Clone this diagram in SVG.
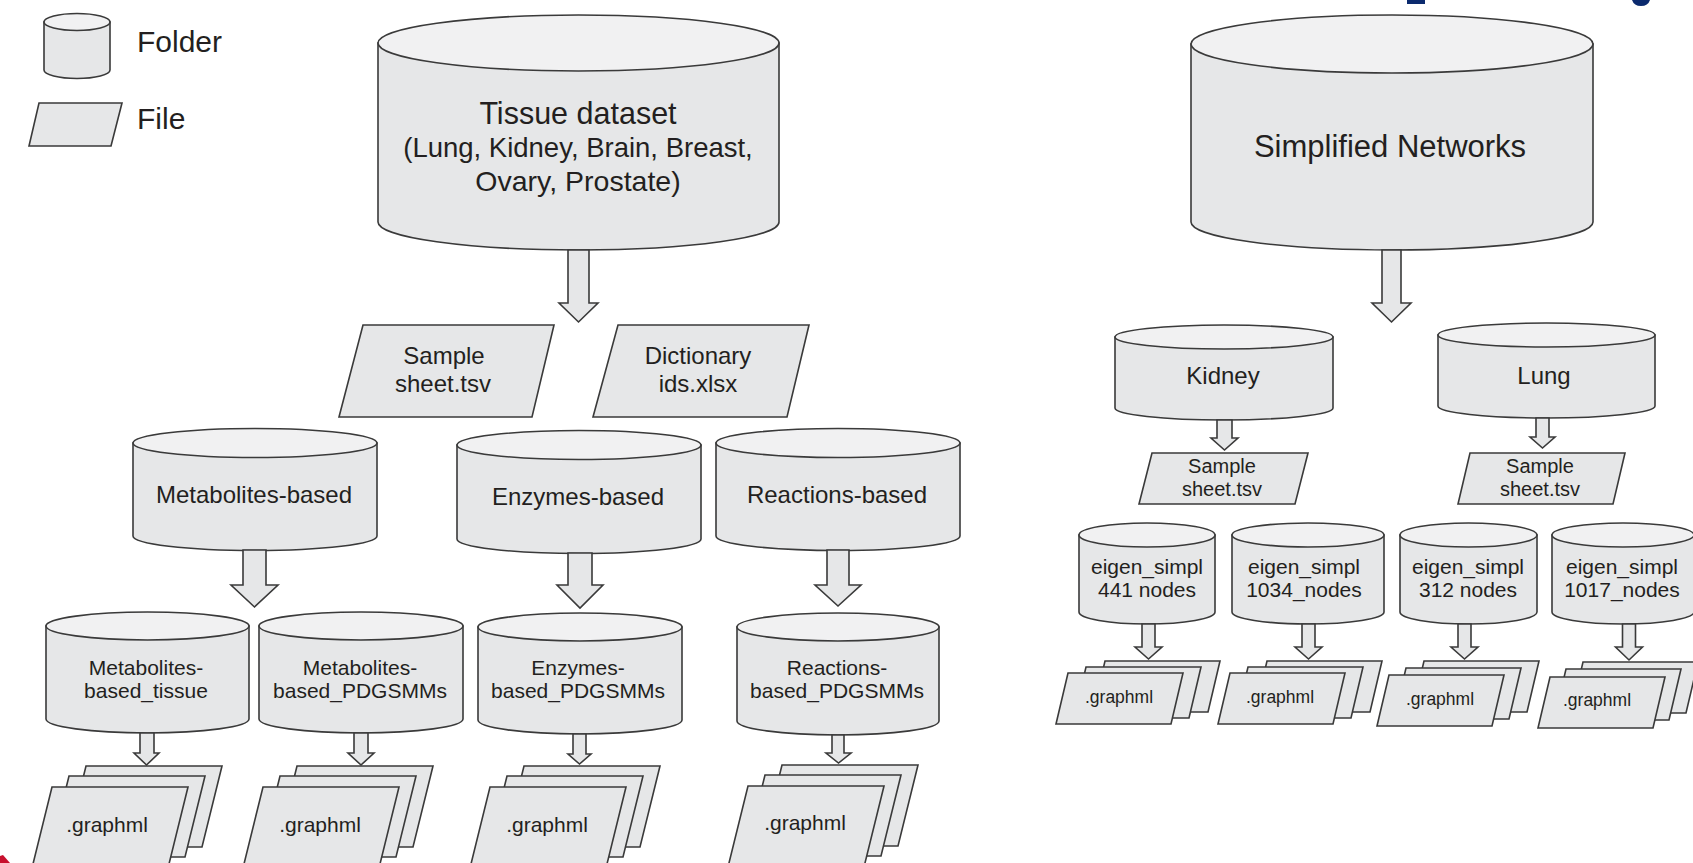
<svg xmlns="http://www.w3.org/2000/svg" width="1693" height="863" viewBox="0 0 1693 863">
<style>
.body{fill:#e6e7e8;stroke:#3a3a3a;stroke-width:1.6}
.top{fill:#f1f1f2;stroke:#3a3a3a;stroke-width:1.6}
.file{fill:#e6e7e8;stroke:#3a3a3a;stroke-width:1.6;stroke-linejoin:miter}
.arrow{fill:#e6e7e8;stroke:#3a3a3a;stroke-width:1.6;stroke-linejoin:miter}
text{font-family:"Liberation Sans",Arial,sans-serif;fill:#231f20;text-anchor:middle}
.t29{font-size:29px}
.t24{font-size:24px}
.t21{font-size:21px}
.t20{font-size:20px}
.t17{font-size:17.5px}
</style>
<rect width="1693" height="863" fill="#ffffff"/>

<!-- edge fragments -->
<rect x="1407" y="0" width="18" height="4" fill="#0b2a6e"/>
<path d="M1632 0 H1650 Q1648 6 1641 6 Q1634 6 1632 0 Z" fill="#0b2a6e"/>
<path d="M0 856 L3 855 L10 863 L0 863 Z" fill="#c8102e"/>

<!-- legend -->
<g id="legend-folder">
<path class="body" d="M44 22 V70 A33 8.5 0 0 0 110 70 V22 Z"/>
<ellipse class="top" cx="77" cy="22" rx="33" ry="8.5"/>
<text x="137" y="52" style="text-anchor:start;font-size:30px">Folder</text>
</g>
<g id="legend-file">
<polygon class="file" points="39,103 122,103 111,146 29,146"/>
<text x="137" y="129" style="text-anchor:start;font-size:30px">File</text>
</g>

<!-- top folders -->
<g id="tissue-dataset">
<path class="body" d="M378 43 V222 A200.5 28 0 0 0 779 222 V43 Z"/>
<ellipse class="top" cx="578.5" cy="43" rx="200.5" ry="28"/>
<text x="578" y="124" style="font-size:30.5px">Tissue dataset</text>
<text x="578" y="157" style="font-size:27.5px">(Lung, Kidney, Brain, Breast,</text>
<text x="578" y="191" style="font-size:28.5px">Ovary, Prostate)</text>
</g>
<g id="simplified-networks">
<path class="body" d="M1191 44 V222 A201 28 0 0 0 1593 222 V44 Z"/>
<ellipse class="top" cx="1392" cy="44" rx="201" ry="29"/>
<text x="1390" y="157" style="font-size:31px">Simplified Networks</text>
</g>

<!-- files -->
<g id="sample-sheet">
<polygon class="file" points="363,325 554,325 532,417 339,417"/>
<text x="444" y="364" class="t24">Sample</text>
<text x="443" y="392" class="t24">sheet.tsv</text>
</g>
<g id="dictionary-ids">
<polygon class="file" points="618,325 809,325 787,417 593,417"/>
<text x="698" y="364" class="t24">Dictionary</text>
<text x="698" y="392" class="t24">ids.xlsx</text>
</g>

<!-- level 2 folders -->
<g id="metabolites-based">
<path class="body" d="M133 443 V536 A122 14.5 0 0 0 377 536 V443 Z"/>
<ellipse class="top" cx="255" cy="443" rx="122" ry="14.5"/>
<text x="254" y="503" class="t24">Metabolites-based</text>
</g>
<g id="enzymes-based">
<path class="body" d="M457 445 V539 A122 14.5 0 0 0 701 539 V445 Z"/>
<ellipse class="top" cx="579" cy="445" rx="122" ry="14.5"/>
<text x="578" y="505" class="t24">Enzymes-based</text>
</g>
<g id="reactions-based">
<path class="body" d="M716 443 V536 A122 14.5 0 0 0 960 536 V443 Z"/>
<ellipse class="top" cx="838" cy="443" rx="122" ry="14.5"/>
<text x="837" y="503" class="t24">Reactions-based</text>
</g>

<!-- level 3 folders -->
<g id="metabolites-based-tissue">
<path class="body" d="M46 626 V719 A101.5 14 0 0 0 249 719 V626 Z"/>
<ellipse class="top" cx="147.5" cy="626" rx="101.5" ry="14"/>
<text x="146" y="675" class="t21">Metabolites-</text>
<text x="146" y="698" class="t21">based_tissue</text>
</g>
<g id="metabolites-based-pdgsmms">
<path class="body" d="M259 626 V719 A102 14 0 0 0 463 719 V626 Z"/>
<ellipse class="top" cx="361" cy="626" rx="102" ry="14"/>
<text x="360" y="675" class="t21">Metabolites-</text>
<text x="360" y="698" class="t21">based_PDGSMMs</text>
</g>
<g id="enzymes-based-pdgsmms">
<path class="body" d="M478 627 V720 A102 14 0 0 0 682 720 V627 Z"/>
<ellipse class="top" cx="580" cy="627" rx="102" ry="14"/>
<text x="578" y="675" class="t21">Enzymes-</text>
<text x="578" y="698" class="t21">based_PDGSMMs</text>
</g>
<g id="reactions-based-pdgsmms">
<path class="body" d="M737 627 V721 A101 14 0 0 0 939 721 V627 Z"/>
<ellipse class="top" cx="838" cy="627" rx="101" ry="14"/>
<text x="837" y="675" class="t21">Reactions-</text>
<text x="837" y="698" class="t21">based_PDGSMMs</text>
</g>

<!-- left graphml stacks -->
<g id="graphml-tissue">
<polygon class="file" points="86,766 222,766 202,847 66,847"/>
<polygon class="file" points="69,776 205,776 185,857 49,857"/>
<polygon class="file" points="52,787 188,787 168,868 32,868"/>
<text x="107" y="832" class="t21">.graphml</text>
</g>
<g id="graphml-metabolites">
<polygon class="file" points="297,766 433,766 413,847 277,847"/>
<polygon class="file" points="280,776 416,776 396,857 260,857"/>
<polygon class="file" points="263,787 399,787 379,868 243,868"/>
<text x="320" y="832" class="t21">.graphml</text>
</g>
<g id="graphml-enzymes">
<polygon class="file" points="524,766 660,766 640,847 504,847"/>
<polygon class="file" points="507,776 643,776 623,857 487,857"/>
<polygon class="file" points="490,787 626,787 606,868 470,868"/>
<text x="547" y="832" class="t21">.graphml</text>
</g>
<g id="graphml-reactions">
<polygon class="file" points="782,765 918,765 898,846 762,846"/>
<polygon class="file" points="765,775 901,775 881,856 745,856"/>
<polygon class="file" points="748,786 884,786 864,867 728,867"/>
<text x="805" y="830" class="t21">.graphml</text>
</g>

<!-- right side folders -->
<g id="kidney">
<path class="body" d="M1115 337 V408 A109 12 0 0 0 1333 408 V337 Z"/>
<ellipse class="top" cx="1224" cy="337" rx="109" ry="12"/>
<text x="1223" y="384" class="t24">Kidney</text>
</g>
<g id="lung">
<path class="body" d="M1438 335 V406 A108.5 12 0 0 0 1655 406 V335 Z"/>
<ellipse class="top" cx="1546.5" cy="335" rx="108.5" ry="12"/>
<text x="1544" y="384" class="t24">Lung</text>
</g>
<g id="sample-sheet-kidney">
<polygon class="file" points="1152,453 1308,453 1295,504 1139,504"/>
<text x="1222" y="473" class="t20">Sample</text>
<text x="1222" y="496" class="t20">sheet.tsv</text>
</g>
<g id="sample-sheet-lung">
<polygon class="file" points="1470,453 1625,453 1613,504 1458,504"/>
<text x="1540" y="473" class="t20">Sample</text>
<text x="1540" y="496" class="t20">sheet.tsv</text>
</g>

<g id="eigen-441">
<path class="body" d="M1079 535 V612 A68 12 0 0 0 1215 612 V535 Z"/>
<ellipse class="top" cx="1147" cy="535" rx="68" ry="12"/>
<text x="1147" y="574" class="t21">eigen_simpl</text>
<text x="1147" y="597" class="t21">441 nodes</text>
</g>
<g id="eigen-1034">
<path class="body" d="M1232 535 V612 A76 12 0 0 0 1384 612 V535 Z"/>
<ellipse class="top" cx="1308" cy="535" rx="76" ry="12"/>
<text x="1304" y="574" class="t21">eigen_simpl</text>
<text x="1304" y="597" class="t21">1034_nodes</text>
</g>
<g id="eigen-312">
<path class="body" d="M1400 535 V612 A68.5 12 0 0 0 1537 612 V535 Z"/>
<ellipse class="top" cx="1468.5" cy="535" rx="68.5" ry="12"/>
<text x="1468" y="574" class="t21">eigen_simpl</text>
<text x="1468" y="597" class="t21">312 nodes</text>
</g>
<g id="eigen-1017">
<path class="body" d="M1552 535 V612 A71 12 0 0 0 1694 612 V535 Z"/>
<ellipse class="top" cx="1623" cy="535" rx="71" ry="12"/>
<text x="1622" y="574" class="t21">eigen_simpl</text>
<text x="1622" y="597" class="t21">1017_nodes</text>
</g>

<!-- right graphml stacks -->
<g id="graphml-441">
<polygon class="file" points="1105,661 1220,661 1208,712 1093,712"/>
<polygon class="file" points="1086,667 1201,667 1189,718 1074,718"/>
<polygon class="file" points="1068,673 1183,673 1171,724 1056,724"/>
<text x="1119" y="703" class="t17">.graphml</text>
</g>
<g id="graphml-1034">
<polygon class="file" points="1267,661 1382,661 1370,712 1255,712"/>
<polygon class="file" points="1248,667 1363,667 1351,718 1236,718"/>
<polygon class="file" points="1230,673 1345,673 1333,724 1218,724"/>
<text x="1280" y="703" class="t17">.graphml</text>
</g>
<g id="graphml-312">
<polygon class="file" points="1424,661 1539,661 1527,712 1412,712"/>
<polygon class="file" points="1406,668 1521,668 1509,719 1394,719"/>
<polygon class="file" points="1389,675 1504,675 1492,726 1377,726"/>
<text x="1440" y="705" class="t17">.graphml</text>
</g>
<g id="graphml-1017">
<polygon class="file" points="1583,662 1698,662 1686,713 1571,713"/>
<polygon class="file" points="1566,669 1681,669 1669,720 1554,720"/>
<polygon class="file" points="1550,677 1665,677 1653,728 1538,728"/>
<text x="1597" y="706" class="t17">.graphml</text>
</g>

<!-- connectors -->
<g id="connectors">
<polygon class="arrow" points="568,250 568,303 559,303 578.5,322 598,303 589,303 589,250"/>
<polygon class="arrow" points="1382,250 1382,303 1372,303 1391.5,322 1411,303 1401,303 1401,250"/>
<polygon class="arrow" points="243,550 243,585 231,585 254.5,607 278,585 266,585 266,550"/>
<polygon class="arrow" points="568,553 568,585 557,585 580,608 603,585 592,585 592,553"/>
<polygon class="arrow" points="827,550 827,585 815,585 838,606 861,585 849,585 849,550"/>
<polygon class="arrow" points="140,733 140,753 134,753 146.5,765 159,753 154,753 154,733"/>
<polygon class="arrow" points="354,733 354,753 348,753 361,765 374,753 368,753 368,733"/>
<polygon class="arrow" points="573,734 573,754 568,754 579.5,764 591,754 586,754 586,734"/>
<polygon class="arrow" points="832,735 832,753 826,753 838.5,763 851,753 844,753 844,735"/>
<polygon class="arrow" points="1217,420 1217,438 1211,438 1224.5,450 1238,438 1232,438 1232,420"/>
<polygon class="arrow" points="1536,418 1536,437 1530,437 1542.5,448 1555,437 1549,437 1549,418"/>
<polygon class="arrow" points="1142,624 1142,647 1135,647 1148.5,659 1162,647 1155,647 1155,624"/>
<polygon class="arrow" points="1302,624 1302,647 1295,647 1308.5,659 1322,647 1315,647 1315,624"/>
<polygon class="arrow" points="1458,624 1458,647 1451,647 1464.5,659 1478,647 1471,647 1471,624"/>
<polygon class="arrow" points="1622.5,624 1622.5,647 1615.5,647 1629,660 1642.5,647 1635.5,647 1635.5,624"/>
</g>
</svg>
